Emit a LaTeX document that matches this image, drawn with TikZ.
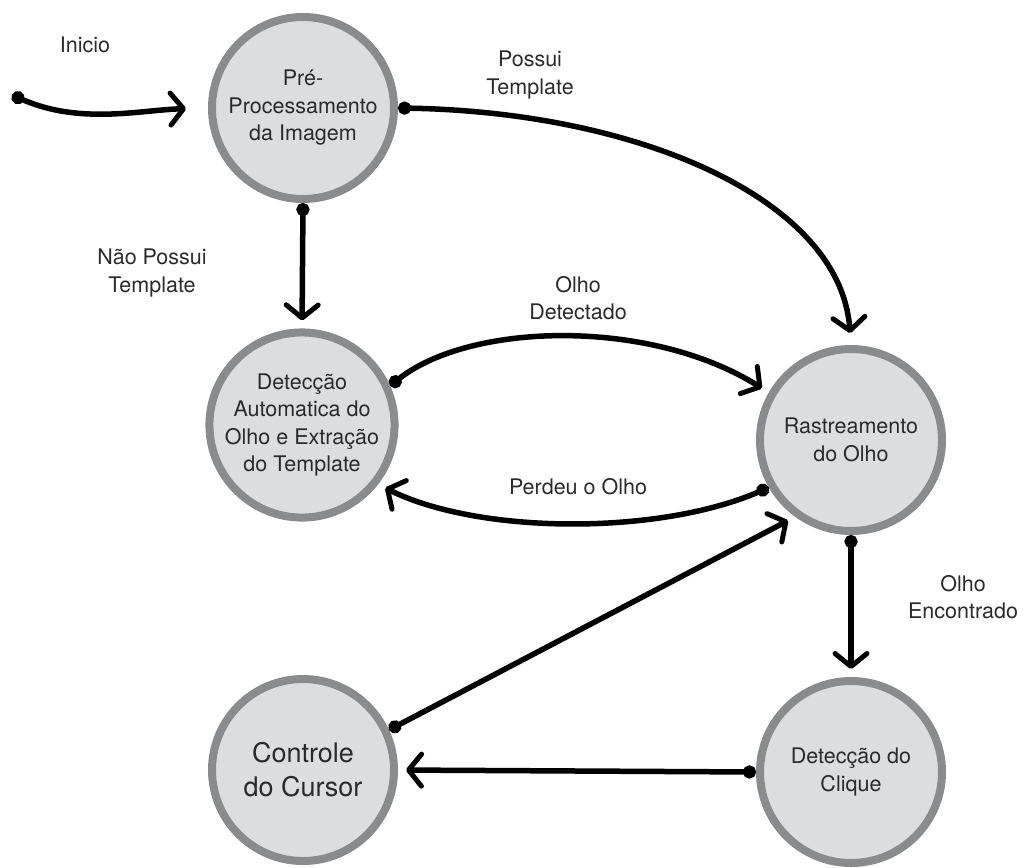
\documentclass[tikz,border=0pt]{standalone}
\usepackage{fontspec}
\setmainfont{TeX Gyre Heros}
\usetikzlibrary{arrows.meta}
\definecolor{statefill}{HTML}{DCDDDF}
\definecolor{stateedge}{HTML}{8A8B8D}
\definecolor{txt}{HTML}{2A2A2A}
\begin{document}
\begin{tikzpicture}[x=1pt,y=-1pt,
  state/.style={circle,draw=stateedge,fill=statefill,line width=8pt,
    minimum size=182pt,inner sep=0pt,align=center,text=txt,
    font=\fontsize{21.5}{27.5}\selectfont},
  bigstate/.style={state,font=\fontsize{27}{34}\selectfont},
  flow/.style={line width=5.5pt,line cap=round,
    {Circle[length=13pt]}-{Straight Barb[length=13pt,width=32pt,line width=5pt,line cap=round,round]}},
  lbl/.style={align=center,text=txt,font=\fontsize{21.5}{27.5}\selectfont}]
\useasboundingbox (0,0) rectangle (1024,867);

% states
\node[state] (pre) at (303,108) {Pré-\\Processamento\\da Imagem};
\node[state] (det) at (302,425) {Detecção\\Automatica do\\Olho e Extração\\do Template};
\node[state] (rast) at (851,440) {Rastreamento\\do Olho};
\node[bigstate] (ctl) at (303,770) {Controle\\do Cursor};
\node[state] (clq) at (851,772) {Detecção do\\Clique};

% start marker
\coordinate (start) at (12,95);

% transitions
\draw[flow,shorten >=22pt] (start) .. controls (80,125) and (140,110) .. (pre.west);
\draw[flow,shorten >=12pt] (pre.east) .. controls (640,112) and (840,200) .. (rast.north);
\draw[flow,shorten >=8pt] (pre.south) -- (det.north);
\draw[flow,shorten >=8pt] (det.24) .. controls (470,322) and (650,318) .. (rast.150);
\draw[flow,shorten >=8pt] (rast.210) .. controls (660,535) and (480,535) .. (det.322);
\draw[flow,shorten >=8pt] (rast.south) -- (clq.north);
\draw[flow,shorten >=8pt] (clq.west) -- (ctl.east);
\draw[flow,shorten >=8pt] (ctl.25) -- (rast.234);

% labels
\node[lbl] (l0) at (85,45) {Inicio};
\node[lbl] (l1) at (530,75) {Possui\\Template};
\node[lbl] (l2) at (152,273) {Não Possui\\Template};
\node[lbl] (l3) at (578,298) {Olho\\Detectado};
\node[lbl] (l4) at (578,487) {Perdeu o Olho};
\node[lbl] (l5) at (963,597) {Olho\\Encontrado};
\end{tikzpicture}
\end{document}
